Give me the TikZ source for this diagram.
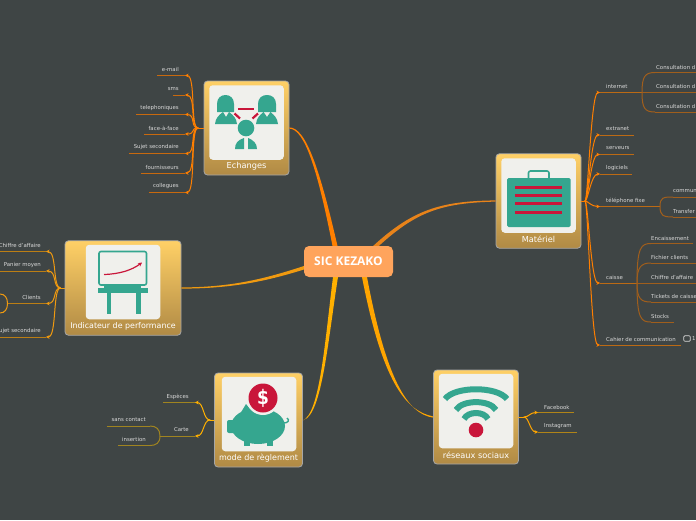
\documentclass[tikz,border=0pt]{standalone}
\usepackage{fontspec}
\setmainfont{DejaVu Sans}
\newfontfamily\headfont{Open Sans}
\usetikzlibrary{calc,arrows.meta,shapes.geometric}
\definecolor{bg}{HTML}{3F4545}
\definecolor{teal1}{HTML}{35A68F}
\definecolor{red1}{HTML}{C9163A}
\definecolor{panel}{HTML}{F0F0EC}
\definecolor{brc}{HTML}{FF7F00}
\tikzset{
  lab/.style={text=white!85!black,font=\fontsize{5.4}{6}\selectfont,inner sep=0pt},
  cardbox/.style={rectangle,rounded corners=3.5pt,draw=white!65!black,line width=.8pt,top color=cardtop,bottom color=cardbot,inner sep=0pt},
  panelbox/.style={rectangle,rounded corners=3.5pt,fill=panel,inner sep=0pt,minimum width=74.5pt,minimum height=74.5pt},
  cardtitle/.style={text=white,font=\fontsize{8.2}{10}\selectfont,inner sep=0pt},
  leafline/.style={draw=brc,line width=1pt},
  bcurve/.style={draw=brc,line width=1pt,line cap=round},
  tipped/.style={-{Stealth[length=3.6pt,width=3.8pt]}},
}
\definecolor{cardtop}{HTML}{FFD066}
\definecolor{cardbot}{HTML}{B08A45}
\definecolor{centerfill}{HTML}{FFA45C}
% id, text, text x, text y, line y, far x, near x
\newcommand\leafL[7]{%
  \node[lab,anchor=east] (#1t) at (#3,#4) {#2};
  \coordinate (#1a) at (#7,#5); \coordinate (#1b) at (#6,#5);
  \draw[leafline] (#1a) -- (#1b);}
\newcommand\leafR[7]{%
  \node[lab,anchor=west] (#1t) at (#3,#4) {#2};
  \coordinate (#1a) at (#7,#5); \coordinate (#1b) at (#6,#5);
  \draw[leafline] (#1a) -- (#1b);}
% hub, leaf id, c1 dx, c2 dx
\newcommand\branchto[4]{%
  \draw[bcurve,tipped] (#1) .. controls ($(#1)+(#3,0)$) and ($(#2a)+(#4,0)$) .. (#2a);}
% bracket point, leaf id, vertical control dy
\newcommand\bracketto[3]{%
  \draw[leafline] (#1) .. controls ($(#1)+(0,#3)$) and ($(#2a)+(-10,0)$) .. (#2a);}
\begin{document}
\begin{tikzpicture}[x=1pt,y=-1pt]
\useasboundingbox (0,0) rectangle (696,520);
\clip (0,0) rectangle (696,520);
\fill[bg] (0,0) rectangle (696,520);

% ---------- central links (tapered)
\coordinate (cE1) at (332.5,246); \coordinate (cE2) at (337.5,246);
\coordinate (cM1) at (372,247); \coordinate (cM2) at (375,249.5);
\coordinate (cI1) at (304,266); \coordinate (cI2) at (304,269.5);
\coordinate (cB1) at (333,277); \coordinate (cB2) at (338,277);
\coordinate (cR1) at (362,277); \coordinate (cR2) at (367,277);

% ---------- cards
\node[cardbox,minimum width=85pt,minimum height=94pt] (ech) at (246.5,128) {};
\node[panelbox] (echp) at (246.5,122.5) {};
\node[cardtitle] (echt) at (246.5,166) {Echanges};

\node[cardbox,minimum width=116pt,minimum height=94.5pt] (ind) at (123,288) {};
\node[panelbox] (indp) at (123,282) {};
\node[cardtitle,font=\fontsize{7.9}{10}\selectfont] (indt) at (123,326) {Indicateur de performance};

\node[cardbox,minimum width=85pt,minimum height=94.5pt] (mat) at (538.5,201) {};
\node[panelbox] (matp) at (538.5,195.5) {};
\node[cardtitle] (matt) at (538.5,239) {Matériel};

\node[cardbox,minimum width=88pt,minimum height=94pt] (mod) at (258.5,420) {};
\node[panelbox] (modp) at (259,414) {};
\node[cardtitle,font=\fontsize{8}{10}\selectfont] (modt) at (258.5,458) {mode de règlement};

\node[cardbox,minimum width=85pt,minimum height=94pt] (res) at (476,417) {};
\node[panelbox] (resp) at (476,411) {};
\node[cardtitle] (rest) at (476,455) {réseaux sociaux};

\definecolor{cE}{HTML}{FF7F00}
\definecolor{cM}{HTML}{E8831A}
\definecolor{cI}{HTML}{F09A10}
\definecolor{cB}{HTML}{FFB000}
\definecolor{cR}{HTML}{FFA500}
\fill[cE] ($(ech.east)+(0,-.6)$) .. controls (306,127.4) and (320,170) .. (cE2) -- (cE1) .. controls (318,172) and (305,129) .. ($(ech.east)+(0,.6)$) -- cycle;
\fill[cM] ($(mat.west)+(0,.6)$) .. controls (440,203) and (415,212) .. (cM2) -- (cM1) .. controls (412,210) and (440,201) .. ($(mat.west)+(0,-.6)$) -- cycle;
\fill[cI] ($(ind.east)+(0,.6)$) .. controls (235,288.6) and (270,280) .. (cI2) -- (cI1) .. controls (270,277) and (235,287.4) .. ($(ind.east)+(0,-.6)$) -- cycle;
\fill[cB] ($(mod.east)+(.6,0)$) .. controls (322,415) and (328,340) .. (cB2) -- (cB1) .. controls (325,340) and (320,414) .. ($(mod.east)+(-.3,.6)$) -- cycle;
\fill[cR] ($(res.west)+(0,-.6)$) .. controls (405,411) and (382,380) .. (cR1) -- (cR2) .. controls (386,378) and (407,414) .. ($(res.west)+(0,.6)$) -- cycle;

\node[rectangle,rounded corners=5pt,fill=centerfill,minimum width=89pt,minimum height=31pt,inner sep=0pt,text=white,font=\headfont\bfseries\fontsize{12}{13}\selectfont] (central) at (348.5,261.5) {SIC KEZAKO};

% ---------- icon Echanges
\fill[teal1] (215,124) .. controls (215.5,118) and (219,115) .. (223,112) -- (226,117) -- (229,112) .. controls (233,115) and (236.5,118) .. (237,124) -- cycle;
\fill[teal1] (217,112) -- (217,104) .. controls (217,98) and (221,95) .. (225.5,95) .. controls (230,95) and (234,98) .. (234,104) -- (234,112) -- cycle;
\fill[teal1] (256,124) .. controls (256.5,118) and (260,115) .. (263.5,112) -- (267,117) -- (270.5,112) .. controls (274,115) and (277.5,118) .. (278,124) -- cycle;
\fill[teal1] (258,112) -- (258,104) .. controls (258,98) and (262,95) .. (267,95) .. controls (272,95) and (276,98) .. (276,104) -- (276,112) -- cycle;
\fill[panel] (246,128) circle[radius=9.5];
\fill[teal1] (246,128) circle[radius=8.3];
\fill[teal1] (235,149) .. controls (235,143) and (238,140) .. (244,138) -- (244,149) -- cycle;
\fill[teal1] (248,149) -- (248,138) .. controls (253,140) and (257,143) .. (257,149) -- cycle;
\draw[red1,line width=2.2pt] (238,108.7) -- (254,108.7);
\draw[red1,line width=2.2pt] (234.5,113.5) -- (240,118.5);
\draw[red1,line width=2.2pt] (258,113.5) -- (252.5,118.5);

% ---------- icon Indicateur
\draw[teal1,line width=1.6pt,rounded corners=2pt,fill=panel] (99,251.5) rectangle (146.5,285);
\fill[teal1] (104,285) rectangle (141,288);
\fill[teal1] (98,288) rectangle (148,292.5);
\fill[teal1] (106.5,292) rectangle (110.5,314);
\fill[teal1] (136,292) rectangle (140.5,314);
\draw[red1,line width=1.2pt,-{Stealth[length=4pt,width=4pt]}] (104,274.5) .. controls (120,274) and (132,270) .. (142,262.5);

% ---------- icon Materiel
\draw[teal1,line width=1.6pt,rounded corners=2pt] (528.5,178) -- (528.5,171) -- (549,171) -- (549,178);
\fill[teal1,rounded corners=1.5pt] (507,178) rectangle (570.5,227);
\foreach \yy in {185.5,194,202,210.5} \fill[red1] (515,\yy) rectangle (562,\yy+3.4);

% ---------- icon piggy
\fill[teal1] (258,426) ellipse[x radius=27,y radius=18];
\fill[teal1,rounded corners=2pt] (227,420) rectangle (238,433);
\fill[teal1] (240,414) -- (246,404) -- (252,411) -- cycle;
\fill[teal1] (244,438) rectangle (250,445.5);
\fill[teal1] (267,438) rectangle (273,445.5);
\draw[teal1,line width=1.4pt] (284,423) .. controls (288,423) and (290,420) .. (287,418);
\fill[panel] (263,398) circle[radius=17];
\fill[red1] (263,398) circle[radius=14.5];
\node[text=white,font=\bfseries\fontsize{20}{21}\selectfont,inner sep=0pt,xscale=.85] (dollar) at (263,398) {\$};

% ---------- icon wifi
\draw[teal1,line width=6pt] (445,399) .. controls (455,386) and (497,386) .. (507,399);
\draw[teal1,line width=6pt] (456,410) .. controls (462,399.5) and (490,399.5) .. (496,410);
\draw[teal1,line width=6pt] (464,419) .. controls (468,411) and (484,411) .. (488,419);
\fill[red1] (476,430) circle[radius=7.3];

% ---------- Echanges branches
\definecolor{brc}{HTML}{C8690E}
\coordinate (hubE) at (198,128);
\leafL{e1}{e-mail}{179}{69.5}{75.5}{157}{185}
\leafL{e2}{sms}{179}{89}{95}{173}{185}
\leafL{e3}{telephoniques}{179}{108}{114.5}{136}{185}
\leafL{e4}{face-à-face}{179}{128}{134}{144}{185}
\leafL{e5}{Sujet secondaire}{179}{147}{153.5}{129}{185}
\leafL{e6}{fournisseurs}{179}{167}{173}{141}{185}
\leafL{e7}{collegues}{179}{186}{192.5}{149}{185}
\definecolor{brc}{HTML}{FF7F00}
\foreach \l in {e1,e2,e3,e4,e5,e6,e7} {\branchto{hubE}{\l}{-8}{11}}
\draw[bcurve] (ech.west) -- (hubE);

% ---------- Indicateur branches
\definecolor{brc}{HTML}{BC7E14}
\coordinate (hubI) at (60.5,288);
\leafL{i1}{Chiffre d'affaire}{41}{245}{251.5}{-2}{46}
\leafL{i2}{Panier moyen}{41}{265}{271}{-2}{46}
\leafL{i3}{Clients}{41}{297}{303.5}{7.5}{46}
\leafL{i4}{Sujet secondaire}{41}{331}{337}{-2}{46}
\definecolor{brc}{HTML}{F09A10}
\foreach \l in {i1,i2,i3,i4} {\branchto{hubI}{\l}{-8}{11}}
\draw[bcurve] (ind.west) -- (hubI);
\draw[brc,line width=1pt] (0,294) .. controls (5,294) and (7.5,298) .. (i3b) .. controls (7.5,309) and (5,313) .. (0,313);

% ---------- Materiel branches
\definecolor{brc}{HTML}{BC6A14}
\coordinate (hubM) at (585,201);
\leafR{m1}{internet}{606}{86}{92.5}{642}{600}
\leafR{m2}{extranet}{606}{129}{135}{634}{600}
\leafR{m3}{serveurs}{606}{148}{154.5}{634}{600}
\leafR{m4}{logiciels}{606}{168}{174}{632}{600}
\leafR{m5}{téléphone fixe}{606}{201}{206.5}{660}{600}
\leafR{m6}{caisse}{606}{277}{283}{637}{600}
\leafR{m7}{Cahier de communication}{606}{339}{345}{681}{600}
\definecolor{brc}{HTML}{FF7F00}
\foreach \l in {m1,m2,m3,m4,m5,m6,m7} {\branchto{hubM}{\l}{3}{-9}}
\draw[bcurve] (mat.east) -- (hubM);
% comment marker
\node[draw=white!85!black,rounded corners=1pt,line width=.7pt,minimum width=6.5pt,minimum height=5.5pt,inner sep=0pt] (cmt) at (687,338.5) {};
\node[lab,anchor=west] (cmtn) at (692,338.5) {1};
% sub-branches
\definecolor{brc}{HTML}{A05E1C}
\leafR{n1}{Consultation d}{656}{67}{72.5}{700}{655}
\leafR{n2}{Consultation d}{656}{86}{92.5}{700}{642}
\leafR{n3}{Consultation d}{656}{106}{112}{700}{655}
\bracketto{m1b}{n1}{-16}
\bracketto{m1b}{n3}{16}
\leafR{p1}{commun}{673}{191}{197}{700}{673}
\leafR{p2}{Transfer}{673}{211}{217}{700}{673}
\bracketto{m5b}{p1}{-9}
\bracketto{m5b}{p2}{9}
\leafR{q1}{Encaissement}{651}{238}{243.5}{693}{651}
\leafR{q2}{Fichier clients}{651}{257}{263}{700}{651}
\leafR{q3}{Chiffre d'affaire}{651}{277}{283}{700}{637}
\leafR{q4}{Tickets de caisse}{651}{296}{302}{700}{651}
\leafR{q5}{Stocks}{651}{316}{322}{674}{651}
\bracketto{m6b}{q1}{-36}
\bracketto{m6b}{q2}{-16}
\bracketto{m6b}{q4}{16}
\bracketto{m6b}{q5}{36}

% ---------- mode branches
\definecolor{brc}{HTML}{A08420}
\coordinate (hubB) at (210,420);
\leafL{b1}{Espèces}{189}{397}{402.5}{163}{195}
\leafL{b2}{Carte}{189}{430}{436}{160}{195}
\definecolor{brc}{HTML}{FFB000}
\branchto{hubB}{b1}{-7}{9}
\branchto{hubB}{b2}{-7}{9}
\draw[bcurve] (mod.west) -- (hubB);
\definecolor{brc}{HTML}{A08420}
\leafL{c1}{sans contact}{146}{420}{426}{107}{150}
\leafL{c2}{insertion}{146}{439}{445.5}{118}{150}
\draw[leafline] (b2b) .. controls ($(b2b)+(0,-7)$) and ($(c1a)+(6,0)$) .. (c1a);
\draw[leafline] (b2b) .. controls ($(b2b)+(0,7)$) and ($(c2a)+(6,0)$) .. (c2a);

% ---------- reseaux branches
\definecolor{brc}{HTML}{B08418}
\coordinate (hubR) at (524,417);
\leafR{r1}{Facebook}{544}{407}{412.5}{574}{538}
\leafR{r2}{Instagram}{544}{426}{432}{577}{538}
\definecolor{brc}{HTML}{FFA500}
\branchto{hubR}{r1}{5}{-8}
\branchto{hubR}{r2}{5}{-8}
\draw[bcurve] (res.east) -- (hubR);
\end{tikzpicture}
\end{document}
